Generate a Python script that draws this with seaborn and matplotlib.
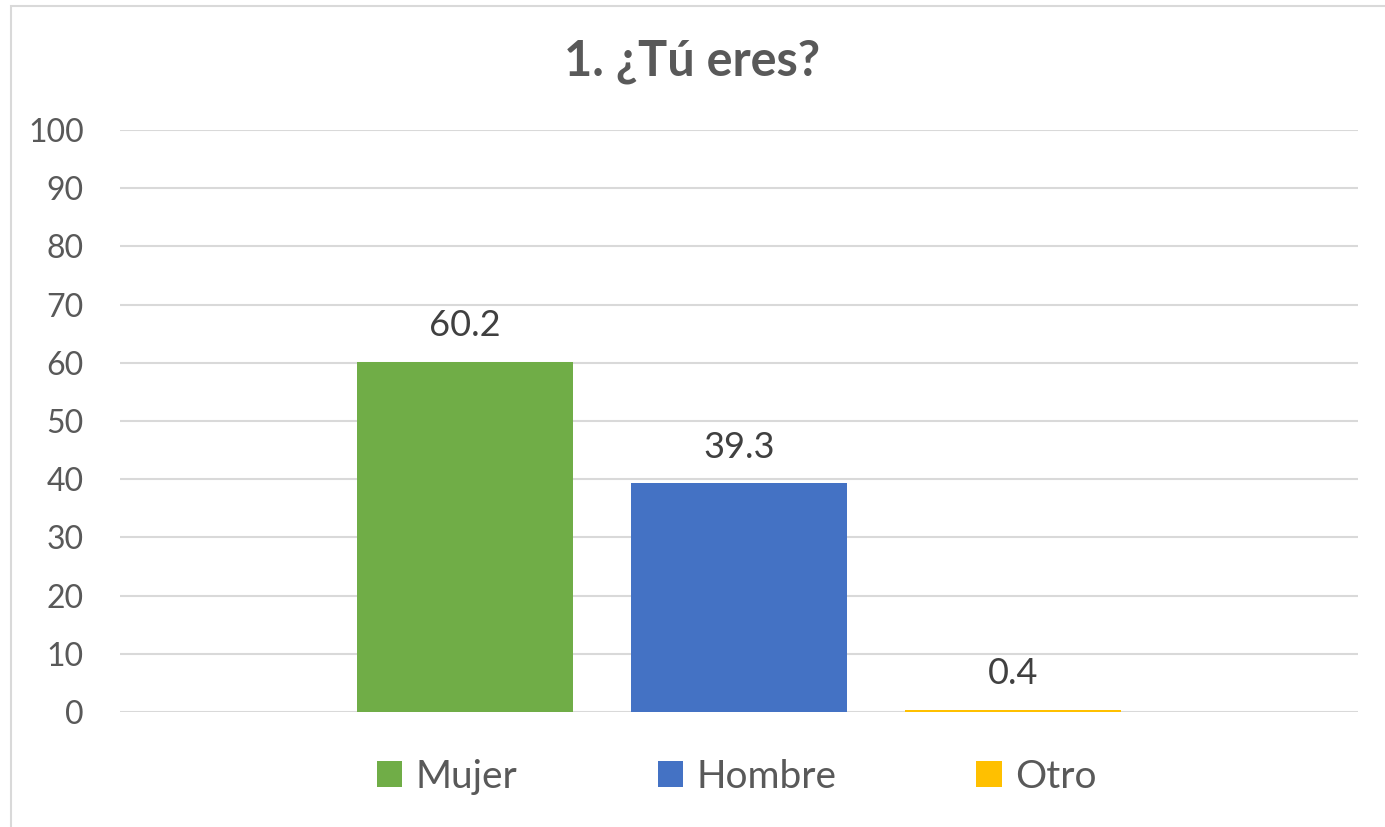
import matplotlib
matplotlib.use('Agg')
import matplotlib.pyplot as plt
import matplotlib.patches as mpatches
import seaborn as sns

# data
categories = ['Mujer', 'Hombre', 'Otro']
values = [60.2, 39.3, 0.4]
group = ['1. ¿Tú eres?'] * 3
colors = ['#70AD47', '#4472C4', '#FFC000']

sns.set_style('white')
plt.rcParams['font.family'] = ['Lato', 'DejaVu Sans']

fig = plt.figure(figsize=(13.85, 8.27), dpi=100)
ax = fig.add_axes([120 / 1385, 1 - 712 / 827, (1358 - 120) / 1385, (712 - 130) / 827])

sns.barplot(x=group, y=values, hue=categories, palette=colors, saturation=1,
            width=0.664, gap=0.212, linewidth=0, ax=ax, legend=True)

for c in ax.containers:
    ax.bar_label(c, fmt='%.1f', padding=14, fontsize=26, color='#404040')

ax.set_ylim(0, 100)
ax.set_yticks(range(0, 101, 10))
ax.tick_params(axis='y', length=0, pad=26, labelsize=23, labelcolor='#595959')
ax.set_xticks([])
ax.set_xlabel('')
ax.yaxis.grid(True, color='#D9D9D9', linewidth=1.5)
ax.set_axisbelow(True)
sns.despine(ax=ax, left=True, bottom=True)

handles, labels = ax.get_legend_handles_labels()
ax.get_legend().remove()
fig.legend(handles, labels, loc='center', bbox_to_anchor=(0.532, 1 - 777 / 827),
           ncol=3, frameon=False, fontsize=28, labelcolor='#595959',
           handlelength=0.65, handleheight=0.65, handletextpad=0.35,
           columnspacing=3.6)

fig.text(0.5, 1 - 62 / 827, '1. ¿Tú eres?', ha='center', va='center',
         fontsize=35, fontweight='bold', color='#595959')

# chart border
fig.patches.append(mpatches.Rectangle((11 / 1385, -0.1), 2, 1.1 - 6 / 827,
                                      transform=fig.transFigure, fill=False,
                                      edgecolor='#D9D9D9', linewidth=1.5))

fig.savefig('out.png', dpi=100)
